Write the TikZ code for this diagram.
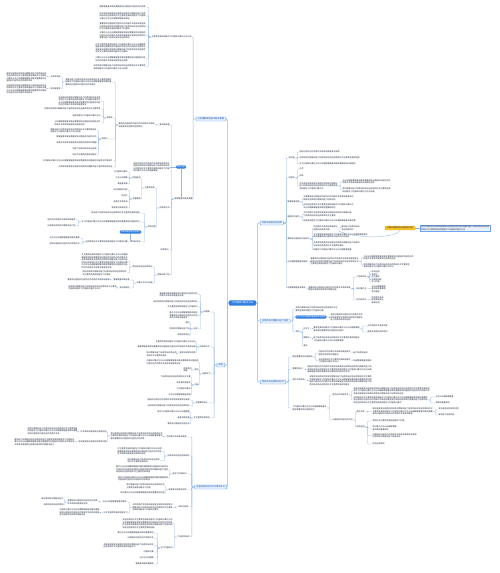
\documentclass[tikz,border=0pt]{standalone}
\usepackage{fontspec}
\newfontfamily\cjkf{Noto Sans CJK SC}
\ExplSyntaxOn
\tl_const:Nn \c_rs_pool_tl {学习内容知识要点方法分析理解掌握基本概念重要原则过程结构功能特点作用条件关系影响发展变化规律应用实践问题解决能力培养目标综合运用表现形式主要类型具体措施}
\int_new:N \g_rs_pos_int
\cs_new_protected:Npn \rs_chars:n #1
  {
    \int_step_inline:nn {#1}
      {
        \int_gincr:N \g_rs_pos_int
        \tl_item:Nn \c_rs_pool_tl { \int_mod:nn { \g_rs_pos_int } { \tl_count:N \c_rs_pool_tl } + 1 }
      }
  }
\NewDocumentCommand \Lt { m m }
  {
    \int_compare:nNnTF {#2} = {1}
      { \rs_chars:n {#1} }
      {
        \int_step_inline:nn { #2 - 1 } { \rs_chars:n {#1} \\ }
        \rs_chars:n { \int_div_truncate:nn { #1 * 2 } { 3 } }
      }
  }
\ExplSyntaxOff
\definecolor{lc}{HTML}{93B8E6}
\definecolor{tc}{HTML}{1E283A}
\definecolor{rb}{HTML}{2F7DE1}
\definecolor{lb}{HTML}{6EA6EE}
\definecolor{lf}{HTML}{E8F1FD}
\definecolor{lt}{HTML}{1C58B0}
\definecolor{yc}{HTML}{F7C52B}
\definecolor{yd}{HTML}{E8A600}
\tikzset{
  con/.style={draw=lc, line width=0.35pt, rounded corners=0.8pt},
  spine/.style={con, line width=0.55pt},
  tl/.style={anchor=east, align=left, inner sep=0.3pt, font=\cjkf\fontsize{2}{2.5}\selectfont, text=tc},
  tr/.style={tl, anchor=west},
  lvlone/.style={draw=lb, fill=lf, rounded corners=0.8pt, inner xsep=1.8pt, inner ysep=1pt, font=\cjkf\fontsize{2.2}{2.6}\selectfont, text=lt, line width=0.4pt},
  rootn/.style={fill=rb, rounded corners=1pt, inner xsep=2.7pt, inner ysep=1.5pt, font=\cjkf\fontsize{2.4}{2.8}\selectfont, text=white},
  pill/.style={fill=rb, rounded corners=1.5pt, inner xsep=1.5pt, inner ysep=0.7pt, font=\cjkf\fontsize{1.9}{2.3}\selectfont, text=white},
  ynode/.style={fill=yc, draw=yd, line width=0.3pt, rounded corners=0.6pt, inner xsep=2pt, inner ysep=1pt, font=\cjkf\fontsize{2}{2.5}\selectfont, text=tc},
  ybox/.style={fill=lf, draw=lb, line width=0.3pt, inner sep=1pt, align=left, font=\cjkf\fontsize{2}{2.5}\selectfont, text=tc}
}
\newcommand\NL[5]{\node[tl] (#1) at (#2,#3) {\Lt{#4}{#5}};}
\newcommand\NR[5]{\node[tr] (#1) at (#2,#3) {\Lt{#4}{#5}};}
\newcommand\cL[2]{\foreach \kid in {#2}{\draw[con] (#1.west) -- ++(-2.5,0) |- (\kid.east);}}
\newcommand\cR[2]{\foreach \kid in {#2}{\draw[con] (#1.east) -- ++(2.5,0) |- (\kid.west);}}
\begin{document}
\begin{tikzpicture}[x=1pt,y=-1pt]
\fill[white] (0,0) rectangle (500,573);
\useasboundingbox (0,0) rectangle (500,573);
% root and first level
\node[rootn] (R) at (242.5,303) {\Lt{9}{1}};
\node[lvlone, anchor=east] (A) at (226,119) {\Lt{12}{1}};
\node[lvlone, anchor=east] (B) at (225,365) {\Lt{2}{1}};
\node[lvlone, anchor=east] (C) at (227,487) {\Lt{13}{1}};
\node[lvlone, anchor=west] (D) at (260,223) {\Lt{9}{1}};
\node[lvlone, anchor=west] (E) at (260,321) {\Lt{12}{1}};
\node[lvlone, anchor=west] (F) at (260,382) {\Lt{10}{1}};
\foreach \kid in {A,B,C}{\draw[spine] (R.west) -- ++(-1.5,0) |- (\kid.east);}
\foreach \kid in {D,E,F}{\draw[spine] (R.east) -- ++(1.5,0) |- (\kid.west);}
% ---------------- A subtree
\NL{a1}{192}{37}{20}{1}
\NL{a1a}{146}{7}{23}{1}
\NL{a1b}{146}{16}{23}{3}
\NL{a1c}{146}{26.5}{23}{3}
\NL{a1d}{146}{35.5}{23}{3}
\NL{a1e}{146}{48}{25}{4}
\NL{a1f}{146}{59}{25}{2}
\NL{a1g}{146}{67}{26}{2}
\NL{a3}{193}{199}{9}{1}
\cL{A}{a1,a3}
\cL{a1}{a1a,a1b,a1c,a1d,a1e,a1f,a1g}
\node[pill] (pl1) at (181,167) {\Lt{4}{1}};
\NL{pl1t}{170}{167}{18}{4}
\draw[con] (pl1.west) -- (pl1t.east);
\draw[con] (pl1.south) -- (pl1.south |- a3.north);
\NL{c1}{170}{125}{5}{1}
\NL{c1t}{155}{125}{18}{2}
\NL{q1}{112}{82}{23}{3}
\NL{q1a}{61}{77}{5}{1}
\NL{q1at}{47}{77}{20}{4}
\NL{q1b}{61}{89}{5}{1}
\NL{q1bt}{47}{89}{20}{4}
\NL{p1}{113}{118}{3}{1}
\NL{p1a}{101}{101}{21}{4}
\NL{p1b}{101}{109}{28}{1}
\NL{p1c}{101}{116}{14}{1}
\NL{p1d}{101}{123}{23}{2}
\NL{p2}{108}{139}{3}{1}
\NL{p2a}{97}{130.5}{23}{2}
\NL{p2b}{97}{137}{20}{1}
\NL{p2c}{97}{143}{20}{1}
\NL{p2d}{97}{149}{12}{1}
\NL{p2e}{97}{155}{12}{1}
\NL{q4}{113}{161}{35}{1}
\NL{q5}{113}{167}{27}{1}
\cL{c1}{c1t}
\cL{c1t}{q1,p1,p2,q4,q5}
\cL{q1}{q1a,q1b}
\cL{q1a}{q1at}
\cL{q1b}{q1bt}
\cL{p1}{p1a,p1b,p1c,p1d}
\cL{p2}{p2a,p2b,p2c,p2d,p2e}
\NL{c2}{170}{208}{5}{1}
\NL{m1}{155}{188}{5}{1}
\NL{m1a}{141}{178}{4}{1}
\NL{m1a1}{128}{172}{7}{1}
\NL{m1a2}{128}{178}{6}{1}
\NL{m1a3}{128}{184}{5}{1}
\NL{m1b}{141}{199}{4}{1}
\NL{m1b1}{128}{190}{7}{1}
\NL{m1b2}{128}{196}{3}{1}
\NL{m1b3}{128}{202}{7}{1}
\NL{m1b4}{128}{208}{8}{1}
\NL{m2}{156}{227}{4}{1}
\NL{m2a}{140}{213}{24}{1}
\NL{m2b}{140}{222}{29}{1}
\NL{m2b1}{76}{220}{14}{1}
\NL{m2b2}{76}{226}{14}{1}
\NL{m2c}{141}{242}{5}{1}
\NL{m2ct}{128}{242}{21}{1}
\NL{m2c1}{80}{238}{15}{1}
\NL{m2c2}{80}{244}{15}{1}
\node[pill] (pl2) at (130.5,232) {\Lt{10}{1}};
\draw[con] (pl2.south) -- (pl2.south |- m2c.north);
\cL{c2}{m1,m2}
\cL{m1}{m1a,m1b}
\cL{m1a}{m1a1,m1a2,m1a3}
\cL{m1b}{m1b1,m1b2,m1b3,m1b4}
\cL{m2}{m2a,m2b,m2c}
\cL{m2b}{m2b1,m2b2}
\cL{m2c}{m2ct}
\cL{m2ct}{m2c1,m2c2}
\NL{c3}{169}{250}{4}{1}
\NL{c4}{170}{275}{6}{1}
\NL{n1}{153}{267}{10}{1}
\NL{n1a}{128}{261}{23}{6}
\NL{n1b}{127}{273}{22}{2}
\NL{n2}{153}{283}{8}{1}
\NL{n2a}{130}{280}{8}{1}
\NL{n2at}{110}{280}{21}{1}
\NL{n2b}{130}{288}{5}{1}
\NL{n2bt}{117}{287.5}{24}{2}
\cL{a3}{c1,c2,c3,c4}
\cL{c4}{n1,n2}
\cL{n1}{n1a,n1b}
\cL{n2}{n2a,n2b}
\cL{n2a}{n2at}
\cL{n2b}{n2bt}
% ---------------- B subtree
\NL{b1}{210}{312}{3}{1}
\NL{b1a}{198}{294.5}{19}{2}
\NL{b1b}{198}{302}{22}{1}
\NL{b1c}{198}{307}{15}{1}
\NL{b1d}{198}{315.5}{14}{3}
\NL{b1e}{198}{329}{2}{1}
\NL{b1e1}{190}{323}{2}{1}
\NL{b1e2}{190}{329}{10}{1}
\NL{b1e3}{190}{335}{6}{1}
\NL{b2}{210}{347}{5}{1}
\NL{b2a}{196}{342}{20}{1}
\NL{b2b}{196}{347}{29}{1}
\NL{b2c}{196}{353}{8}{1}
\NL{b2ct}{177}{354}{15}{2}
\NL{b3}{211}{374}{4}{1}
\NL{b3a}{199}{362}{26}{2}
\NL{b3b}{199}{370}{2}{1}
\NL{b3bt}{192}{369.5}{4}{2}
\NL{b3c}{199}{385}{2}{1}
\NL{b3c1}{191}{377}{15}{1}
\NL{b3c2}{191}{383}{7}{1}
\NL{b3c3}{191}{389}{7}{1}
\NL{b3c4}{191}{395}{11}{1}
\NL{b4}{208}{403}{6}{1}
\NL{b4a}{190}{400}{21}{1}
\NL{b4b}{190}{406}{21}{1}
\NL{b5}{210}{418}{8}{1}
\NL{b5a}{190}{412}{16}{1}
\NL{b5b}{190}{418}{6}{1}
\NL{b5c}{190}{424}{11}{1}
\cL{B}{b1,b2,b3,b4,b5}
\cL{b1}{b1a,b1b,b1c,b1d,b1e}
\cL{b1e}{b1e1,b1e2,b1e3}
\cL{b2}{b2a,b2b,b2c}
\cL{b2c}{b2ct}
\cL{b3}{b3a,b3b,b3c}
\cL{b3b}{b3bt}
\cL{b3c}{b3c1,b3c2,b3c3,b3c4}
\cL{b4}{b4a,b4b}
\cL{b5}{b5a,b5b,b5c}
% ---------------- C subtree
\NL{g1}{187}{437}{10}{1}
\NL{g1t}{163}{436}{26}{3}
\NL{g1a}{107}{432}{13}{1}
\NL{g1at}{78}{431}{25}{3}
\NL{g1b}{107}{442}{14}{1}
\NL{g1bt}{75}{442}{30}{3}
\NL{g2}{190}{456}{11}{1}
\NL{g2a}{162}{451.5}{22}{3}
\NL{g2b}{160}{460.5}{16}{2}
\NL{g3}{187}{474}{7}{1}
\NL{g3a}{168.5}{469.5}{26}{3}
\NL{g3b}{168.5}{478.5}{25}{2}
\NL{g4}{187}{490}{9}{1}
\NL{g4a}{165}{486}{19}{2}
\NL{g4b}{165}{493}{22}{1}
\NL{g5}{189}{507}{5}{1}
\NL{g5t}{173}{507.5}{20}{3}
\NL{g5a}{127}{502}{12}{1}
\NL{g5at}{98}{502}{15}{2}
\NL{g5a1}{64}{499}{11}{1}
\NL{g5a2}{64}{505}{10}{1}
\NL{g5b}{128}{513}{12}{1}
\NL{g5bt}{100}{512.5}{20}{3}
\NL{g6}{190}{537}{6}{1}
\NL{g6a}{173}{523.5}{25}{4}
\NL{g6b}{173}{548}{6}{1}
\NL{g6b1}{154}{533}{18}{1}
\NL{g6b2}{154}{538}{13}{1}
\NL{g6b3}{154}{545.5}{25}{2}
\NL{g6b4}{154}{552}{5}{1}
\NL{g6b5}{154}{558}{7}{1}
\NL{g6b6}{154}{564}{9}{1}
\cL{C}{g1,g2,g3,g4,g5,g6}
\cL{g1}{g1t}
\cL{g1t}{g1a,g1b}
\cL{g1a}{g1at}
\cL{g1b}{g1bt}
\cL{g2}{g2a,g2b}
\cL{g3}{g3a,g3b}
\cL{g4}{g4a,g4b}
\cL{g5}{g5t}
\cL{g5t}{g5a,g5b}
\cL{g5a}{g5at}
\cL{g5at}{g5a1,g5a2}
\cL{g5b}{g5bt}
\cL{g6}{g6a,g6b}
\cL{g6b}{g6b1,g6b2,g6b3,g6b4,g6b5,g6b6}
% ---------------- D subtree
\NR{d1}{288}{158}{3}{1}
\NR{d1a}{299}{152}{20}{1}
\NR{d1b}{299}{158}{30}{1}
\NR{d1c}{299}{164}{28}{1}
\NR{d2}{288}{178}{3}{1}
\NR{d2a}{299}{169}{2}{1}
\NR{d2b}{299}{176}{2}{1}
\NR{d2c}{299}{186}{19}{3}
\NR{d2c1}{342}{181.5}{24}{2}
\NR{d2c2}{342}{190}{24}{2}
\NR{d3}{287}{202}{6}{1}
\NR{d3a}{303}{198}{25}{2}
\NR{d3b}{303}{206}{25}{2}
\NR{d4}{287}{217}{6}{1}
\NR{d4a}{303}{214}{24}{2}
\NR{d4b}{303}{221}{26}{1}
\NR{d5}{287}{239}{11}{1}
\NR{d5a}{313}{228}{12}{2}
\NR{d5b}{341}{228}{9}{2}
\NR{d5c}{313}{235.5}{27}{2}
\NR{d5d}{313}{244}{23}{2}
\NR{d5e}{313}{250}{19}{1}
\node[ynode, anchor=west] (Y) at (385,228) {\Lt{13}{1}};
\node[ybox, anchor=west] (Yc) at (420,228) {\Lt{34}{2}};
\draw[con] (Y.east) -- (Yc.west);
\draw[con] (d5a.south east) .. controls (355,239) and (395,239) .. (Y.south);
\NR{d6}{287}{262}{10}{1}
\NR{d6t}{310}{261.5}{24}{3}
\NR{d6a}{363}{257.5}{25}{2}
\NR{d6b}{363}{265.5}{23}{2}
\NR{d7}{287}{288}{9}{1}
\NR{d7t}{308}{288.5}{21}{2}
\NR{d7a}{356}{277}{5}{1}
\NR{d7a1}{371}{271.8}{4}{1}
\NR{d7a2}{371}{274.4}{3}{1}
\NR{d7a3}{371}{277}{4}{1}
\NR{d7a4}{371}{279.6}{5}{1}
\NR{d7a5}{371}{282.2}{4}{1}
\NR{d7b}{356}{289}{5}{1}
\NR{d7b1}{371}{289}{7}{3}
\NR{d7c}{356}{300}{5}{1}
\NR{d7c1}{371}{300}{6}{3}
\cR{D}{d1,d2,d3,d4,d5,d6,d7}
\cR{d1}{d1a,d1b,d1c}
\cR{d2}{d2a,d2b,d2c}
\cR{d2c}{d2c1,d2c2}
\cR{d3}{d3a,d3b}
\cR{d4}{d4a,d4b}
\cR{d5}{d5a,d5c,d5d,d5e}
\cR{d5a}{d5b}
\cR{d6}{d6t}
\cR{d6t}{d6a,d6b}
\cR{d7}{d7t}
\cR{d7t}{d7a,d7b,d7c}
\cR{d7a}{d7a1,d7a2,d7a3,d7a4,d7a5}
\cR{d7b}{d7b1}
\cR{d7c}{d7c1}
% ---------------- E subtree
\NR{e1}{295}{309}{21}{2}
\node[pill, anchor=west] (e2) at (295,317) {\Lt{15}{1}};
\NR{e2t}{330}{317.5}{16}{3}
\NR{e3}{295}{332}{2}{1}
\NR{e3a}{303}{329}{3}{1}
\NR{e3at}{313}{329}{23}{2}
\NR{e3a1}{367}{326}{10}{1}
\NR{e3a2}{367}{332}{10}{1}
\NR{e3b}{303}{338}{3}{1}
\NR{e3bt}{313}{339}{23}{2}
\NR{e3c}{303}{346}{2}{1}
\cR{E}{e1,e2,e3}
\cR{e2}{e2t}
\cR{e3}{e3a,e3b,e3c}
\cR{e3a}{e3at}
\cR{e3at}{e3a1,e3a2}
\cR{e3b}{e3bt}
% ---------------- F subtree
\NR{f1}{292}{357}{10}{1}
\NR{f1a}{318}{353}{16}{2}
\NR{f1a1}{353}{353}{7}{1}
\NR{f1b}{318}{360.5}{16}{2}
\NR{f1b1}{353}{360.5}{9}{1}
\NR{f2}{292}{369}{5}{1}
\NR{f2t}{307}{369.5}{32}{3}
\NR{f3}{292}{380}{6}{1}
\NR{f3t}{309}{380.5}{31}{4}
\NR{f4}{292}{408}{17}{2}
\NR{f4a}{332}{395}{8}{1}
\NR{f4a1}{353}{391}{38}{3}
\NR{f4a2}{353}{400}{37}{3}
\NR{f4a2a}{435}{397}{9}{1}
\NR{f4a2b}{435}{403}{7}{1}
\NR{f4b}{332}{420}{10}{1}
\NR{f4b1}{356}{412}{4}{1}
\NR{f4b1t}{372}{411.5}{30}{3}
\NR{f4b1a}{438}{409}{10}{1}
\NR{f4b1b}{438}{415}{8}{1}
\NR{f4b2}{356}{427}{4}{1}
\NR{f4b2a}{372}{421}{16}{1}
\NR{f4b2b}{372}{428}{12}{2}
\NR{f4b2c}{372}{435.5}{22}{2}
\NR{f4b2d}{372}{444}{6}{1}
\cR{F}{f1,f2,f3,f4}
\cR{f1}{f1a,f1b}
\cR{f1a}{f1a1}
\cR{f1b}{f1b1}
\cR{f2}{f2t}
\cR{f3}{f3t}
\cR{f4}{f4a,f4b}
\cR{f4a}{f4a1,f4a2}
\cR{f4a2}{f4a2a,f4a2b}
\cR{f4b}{f4b1,f4b2}
\cR{f4b1}{f4b1t}
\cR{f4b1t}{f4b1a,f4b1b}
\cR{f4b2}{f4b2a,f4b2b,f4b2c,f4b2d}
\end{tikzpicture}
\end{document}
